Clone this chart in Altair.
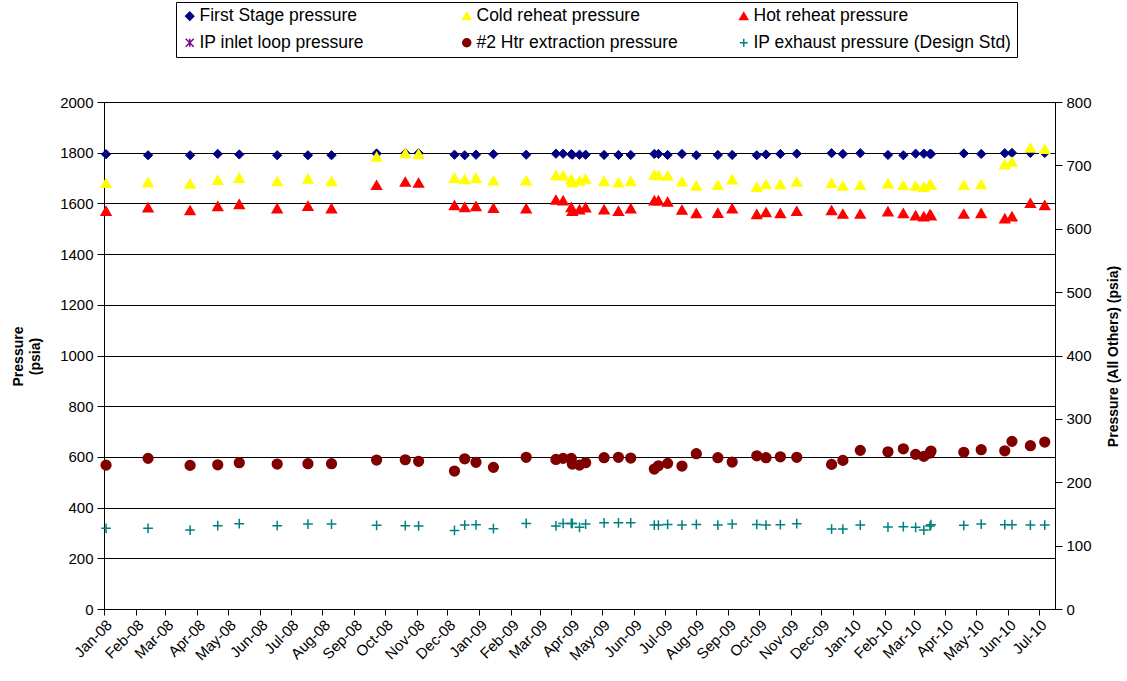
import altair as alt
import pandas as pd

series_names = [
    "First Stage pressure",
    "Cold reheat pressure",
    "Hot reheat pressure",
    "IP inlet loop pressure",
    "#2 Htr extraction pressure",
    "IP exhaust pressure (Design Std)",
]
fill_colors = ["#000080", "#FFFF00", "#FF0000", "transparent", "#800000", "transparent"]
stroke_colors = ["#000080", "#FFFF00", "#FF0000", "#800080", "#800000", "#008080"]
shapes = [
    "diamond",
    "triangle-up",
    "triangle-up",
    "M-1,-1L1,1M-1,1L1,-1M0,-1L0,1",
    "circle",
    "M-1,0L1,0M0,-1L0,1",
]

dates = [
    "2008-01-03", "2008-02-13", "2008-03-25", "2008-04-21", "2008-05-12", "2008-06-18", "2008-07-18", "2008-08-10",
    "2008-09-23", "2008-10-21", "2008-11-03", "2008-12-08", "2008-12-18", "2008-12-29",
    "2009-01-15", "2009-02-16", "2009-03-17", "2009-03-24", "2009-04-01", "2009-04-02", "2009-04-09", "2009-04-15",
    "2009-05-03", "2009-05-17", "2009-05-29", "2009-06-21", "2009-06-25", "2009-07-04", "2009-07-18",
    "2009-08-01", "2009-08-22", "2009-09-05", "2009-09-29", "2009-10-08", "2009-10-22", "2009-11-07",
    "2009-12-11", "2009-12-22",
    "2010-01-08", "2010-02-04", "2010-02-19", "2010-03-03", "2010-03-11", "2010-03-17", "2010-03-18",
    "2010-04-19", "2010-05-06", "2010-05-29", "2010-06-05", "2010-06-23", "2010-07-07",
]

first_stage = [
    1794, 1790, 1790, 1795, 1793, 1790, 1790, 1790,
    1797, 1798, 1798, 1792, 1790, 1792,
    1794, 1792, 1796, 1796, 1794, 1792, 1792, 1792,
    1791, 1791, 1791, 1795, 1795, 1791, 1795,
    1790, 1791, 1791, 1790, 1793, 1795, 1796,
    1798, 1795,
    1798, 1791, 1790, 1796, 1796, 1795, 1795,
    1797, 1795, 1798, 1799, 1799, 1799,
]

cold_reheat = [
    672, 673.5, 671, 677, 680, 675, 679, 675,
    713.5, 719, 718, 680, 678, 680,
    676, 676, 684.5, 684, 678, 673.5, 675.6, 679,
    675, 673, 675, 685, 684.5, 683.5, 674.6,
    668, 669, 677.8, 666, 670, 670, 674,
    672, 667.7,
    668.8, 671.5, 668.8, 667.7, 666, 670, 669,
    669, 670, 701.4, 705.5, 727.6, 725.6,
]

hot_reheat = [
    628, 633.6, 629, 635.6, 638.8, 632, 636, 632,
    668.8, 674, 672.4, 637, 634, 635.6,
    632.5, 632, 645.6, 644.6, 634, 627.8, 630.4, 633.6,
    630.4, 628, 632, 644.6, 644.6, 642.4, 629.8,
    624.6, 625, 632, 623, 626, 624.6, 627.8,
    629, 623.5,
    623.5, 627.3, 624.6, 621, 619.4, 622.6, 621,
    623.5, 624.6, 616.2, 619.4, 640.4, 637.2,
]

htr2_extraction = [
    227, 237.7, 226.6, 227.6, 230.8, 228.7, 229.2, 229.2,
    235, 235.5, 233, 217.7, 237, 231.4,
    223.5, 239.3, 236, 237.7, 237.7, 228.7, 227, 230.8,
    238.7, 239.3, 238.2, 220.8, 226, 229.8, 225.6,
    245, 238.7, 231.9, 241.8, 238.7, 240.2, 239.3,
    228.2, 234.5,
    250.3, 248.1, 252.8, 244, 240.8, 246, 249.2,
    247.2, 251.3, 249.7, 264.5, 257.6, 263.4,
]

ip_exhaust = [
    127.3, 127.3, 124.6, 131.4, 134.6, 131.4, 134, 134,
    132, 131.4, 131, 124, 132.5, 132.8,
    126.7, 135, 131, 135, 135, 135, 128.8, 134,
    136, 136, 136, 132.5, 132.5, 133.5, 132.5,
    133.5, 132.5, 134, 133.5, 132.5, 133, 134.6,
    126.2, 126.2,
    132.5, 129.3, 129.8, 128.8, 124.6, 130.9, 133,
    132, 134, 133, 133, 132.5, 132.5,
]

month_ticks = [(y, m) for y in (2008, 2009, 2010) for m in range(1, 13) if not (y == 2010 and m > 7)]

left_df = pd.DataFrame({"date": dates, "value": first_stage, "series": series_names[0]})
right_parts = []
for name, vals in [
    (series_names[1], cold_reheat),
    (series_names[2], hot_reheat),
    (series_names[4], htr2_extraction),
    (series_names[5], ip_exhaust),
]:
    right_parts.append(pd.DataFrame({"date": dates, "value": vals, "series": name}))
right_df = pd.concat(right_parts, ignore_index=True)

FONT = "Liberation Sans"

legend = alt.Legend(
    title=None,
    orient="none",
    direction="horizontal",
    legendX=72,
    legendY=-100,
    columns=3,
    gridAlign="all",
    columnPadding=-5,
    rowPadding=8,
    padding=5,
    labelFontSize=17.5,
    labelFont=FONT,
    labelColor="black",
    labelLimit=400,
    symbolSize=64,
    symbolStrokeWidth=1.5,
    labelOffset=1,
    strokeColor="black",
    fillColor="white",
    cornerRadius=0,
)

enc_common = dict(
    fill=alt.Fill("series:N", scale=alt.Scale(domain=series_names, range=fill_colors), legend=legend),
    stroke=alt.Stroke("series:N", scale=alt.Scale(domain=series_names, range=stroke_colors), legend=legend),
    shape=alt.Shape("series:N", scale=alt.Scale(domain=series_names, range=shapes), legend=legend),
)

x_enc = alt.X(
    "date:T",
    scale=alt.Scale(
        type="utc",
        domain=[alt.DateTime(year=2008, month=1, date=1, utc=True), alt.DateTime(year=2010, month=7, date=17, utc=True)],
        nice=False,
    ),
    axis=alt.Axis(
        title=None,
        format="%b-%y",
        formatType="time",
        values=[alt.DateTime(year=y, month=m, date=1, utc=True) for (y, m) in month_ticks],
        labelAngle=315,
        labelFontSize=15,
        labelFont=FONT,
        labelColor="black",
        tickColor="black",
        domainColor="black",
        tickSize=6,
        labelPadding=2,
        grid=False,
        labelOverlap=False,
        labelBound=False,
        labelFlush=False,
    ),
)

left = alt.Chart(left_df).mark_point(size=85, strokeWidth=1, opacity=1).encode(
    x=x_enc,
    y=alt.Y(
        "value:Q",
        scale=alt.Scale(domain=[0, 2000], nice=False),
        axis=alt.Axis(
            title=["Pressure", "(psia)"],
            titleFontSize=14,
            titleFont=FONT,
            titleFontWeight="bold",
            titleColor="black",
            titleAngle=270,
            titleX=-86,
            titleY=254,
            titleAlign="center",
            titleBaseline="middle",
            titleLineHeight=17,
            values=list(range(0, 2001, 200)),
            format="d",
            labelFontSize=15,
            labelFont=FONT,
            labelColor="black",
            tickColor="black",
            domainColor="black",
            tickSize=7,
            labelPadding=4,
            grid=True,
            gridColor="black",
            gridWidth=1,
            orient="left",
        ),
    ),
    **enc_common,
)

right = alt.Chart(right_df).mark_point(size=95, strokeWidth=1.5, opacity=1).encode(
    x=x_enc,
    y=alt.Y(
        "value:Q",
        scale=alt.Scale(domain=[0, 800], nice=False),
        axis=alt.Axis(
            title="Pressure (All Others) (psia)",
            titleFontSize=14,
            titleFont=FONT,
            titleFontWeight="bold",
            titleColor="black",
            titleAngle=270,
            titleX=58,
            titleY=254,
            titleAlign="center",
            titleBaseline="middle",
            values=list(range(0, 801, 100)),
            format="d",
            labelFontSize=15,
            labelFont=FONT,
            labelColor="black",
            tickColor="black",
            domainColor="black",
            tickSize=7,
            labelPadding=4,
            grid=False,
            orient="right",
        ),
    ),
    **enc_common,
)

chart = (
    alt.layer(left, right)
    .resolve_scale(y="independent")
    .properties(
        width=951,
        height=507,
        autosize=alt.AutoSizeParams(type="none"),
        padding={"left": 104, "top": 102, "right": 72, "bottom": 72},
        background="white",
    )
    .configure_view(stroke=None)
)

chart.save("out.html", embed_options={"renderer": "svg", "actions": False})
